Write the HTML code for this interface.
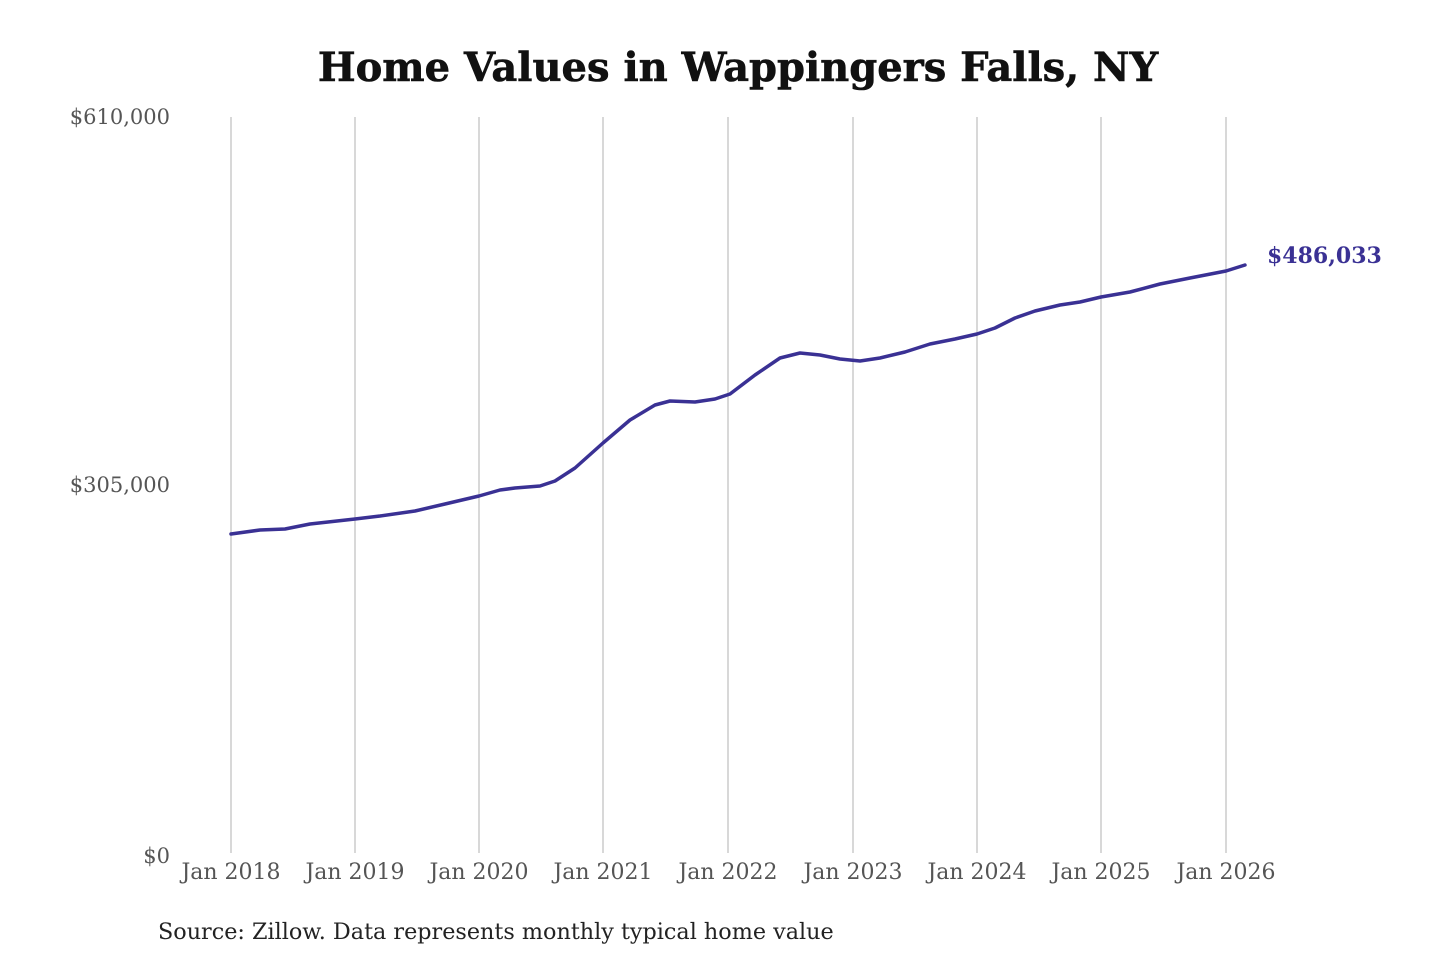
<!DOCTYPE html>
<html><head><meta charset="utf-8"><style>
html,body{margin:0;padding:0;background:#fff;}
</style></head><body>
<svg width="1440" height="960" xmlns="http://www.w3.org/2000/svg" style="display:block;font-family:'DejaVu Serif','Liberation Serif',serif">
<rect width="1440" height="960" fill="#fff"/>
<text x="738" y="81" text-anchor="middle" font-size="40" font-weight="bold" fill="#111" stroke="#111" stroke-width="0.6">Home Values in Wappingers Falls, NY</text>
<g stroke="#c4c4c4" stroke-width="1.3">
<line x1="231" y1="117" x2="231" y2="853"/><line x1="355" y1="117" x2="355" y2="853"/>
<line x1="479" y1="117" x2="479" y2="853"/><line x1="603" y1="117" x2="603" y2="853"/>
<line x1="728" y1="117" x2="728" y2="853"/><line x1="853" y1="117" x2="853" y2="853"/>
<line x1="977" y1="117" x2="977" y2="853"/><line x1="1101" y1="117" x2="1101" y2="853"/>
<line x1="1226" y1="117" x2="1226" y2="853"/>
</g>
<g font-size="21" fill="#555" text-anchor="end">
<text x="170" y="124">$610,000</text>
<text x="170" y="492">$305,000</text>
<text x="170" y="863">$0</text>
</g>
<g font-size="22" fill="#555" text-anchor="middle">
<text x="231" y="879">Jan 2018</text><text x="355" y="879">Jan 2019</text>
<text x="479" y="879">Jan 2020</text><text x="603" y="879">Jan 2021</text>
<text x="728" y="879">Jan 2022</text><text x="853" y="879">Jan 2023</text>
<text x="977" y="879">Jan 2024</text><text x="1101" y="879">Jan 2025</text>
<text x="1226" y="879">Jan 2026</text>
</g>
<polyline fill="none" stroke="#3a3194" stroke-width="3.5" stroke-linejoin="round" stroke-linecap="round"
points="231,534 260,530 285,529 310,524 355,519 380,516 415,511 445,504 479,496 500,490 515,488 540,486 555,481 575,468 603,443 630,420 655,405 670,401 695,402 715,399 730,394 755,375 780,358 800,353 820,355 840,359 860,361 880,358 905,352 930,344 955,339 977,334 995,328 1015,318 1035,311 1060,305 1080,302 1101,297 1130,292 1160,284 1190,278 1226,271 1245,265"/>
<text x="1267" y="263" font-size="22" font-weight="bold" fill="#3a3194">$486,033</text>
<text x="158" y="939" font-size="22.3" fill="#222">Source: Zillow. Data represents monthly typical home value</text>
</svg>
</body></html>
